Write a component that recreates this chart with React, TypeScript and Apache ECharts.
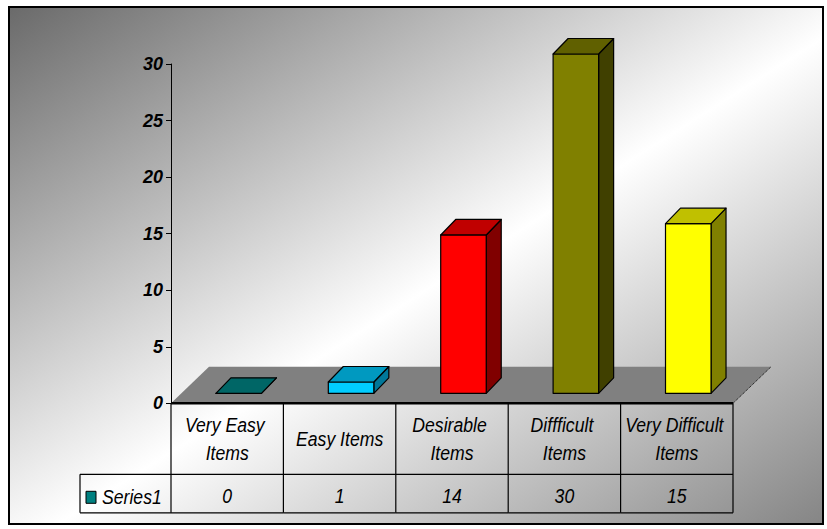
import React, { useEffect, useRef } from "react";
import * as echarts from "echarts";

// ---- data ----
const categories = ["Very Easy Items", "Easy Items", "Desirable Items", "Diffficult Items", "Very Difficult Items"];
const values = [0, 1, 14, 30, 15];
const seriesName = "Series1";
const yMin = 0;
const yMax = 30;
const yInterval = 5;

// ---- styles ----
const frontColors = ["#008080", "#00CCFF", "#FF0000", "#808000", "#FFFF00"];
const topColors = ["#006666", "#0099C0", "#C00000", "#606000", "#C0C000"];
const sideColors = ["#004D4D", "#007799", "#800000", "#404000", "#808000"];
const FONT = "'Liberation Sans', Arial, Helvetica, sans-serif";
const SX = 0.84;

export default function App() {
  const ref = useRef<HTMLDivElement>(null);

  useEffect(() => {
    if (!ref.current) return;
    const chart = echarts.init(ref.current, undefined, { renderer: "svg" });

    const barData = values.map((v, i) => [i, v]);
    const tableData = categories.map((_, i) => [i, 0]);

    const option: any = {
      animation: false,
      backgroundColor: "#ffffff",
      graphic: [
        {
          type: "rect",
          z: -10,
          silent: true,
          shape: { x: 9, y: 7, width: 814, height: 517 },
          style: {
            fill: {
              type: "linear",
              x: 0,
              y: 0,
              x2: 1,
              y2: 1,
              colorStops: [
                { offset: 0, color: "#6a6a6a" },
                { offset: 0.53, color: "#ffffff" },
                { offset: 1, color: "#858585" },
              ],
            },
            stroke: "#000",
            lineWidth: 2,
          },
        },
      ],
      grid: { left: 171, right: 94, top: 64, bottom: 125.7, containLabel: false },
      xAxis: {
        type: "category",
        data: categories,
        boundaryGap: true,
        axisLine: { show: false },
        axisTick: { show: false },
        axisLabel: { show: false },
        splitLine: { show: false },
      },
      yAxis: {
        type: "value",
        min: yMin,
        max: yMax,
        interval: yInterval,
        axisLine: { show: true, lineStyle: { color: "#000", width: 1 } },
        axisTick: { show: true, length: 5, lineStyle: { color: "#000", width: 1 } },
        axisLabel: {
          margin: 8,
          color: "#000",
          fontFamily: FONT,
          fontSize: 18,
          fontWeight: "bold",
          fontStyle: "italic",
        },
        splitLine: { show: false },
      },
      series: [
        {
          type: "custom",
          name: "floor",
          silent: true,
          z: 1,
          data: [[0, 0]],
          encode: { x: 0, y: 1 },
          renderItem: (params: any) => {
            const cs = params.coordSys;
            const fx0 = cs.x;
            const fx1 = cs.x + cs.width;
            const fy = cs.y + cs.height;
            const DX = 38;
            const DY = -36.5;
            return {
              type: "group",
              children: [
                {
                  type: "polygon",
                  shape: { points: [[fx0, fy], [fx1, fy], [fx1 + DX, fy + DY], [fx0 + DX, fy + DY]] },
                  style: { fill: "#808080", stroke: "none" },
                },
                {
                  type: "line",
                  shape: { x1: fx1, y1: fy, x2: fx1 + DX, y2: fy + DY },
                  style: { stroke: "#000", lineWidth: 1, lineDash: [1, 1] },
                },
                {
                  type: "line",
                  shape: { x1: fx0, y1: fy, x2: fx1, y2: fy },
                  style: { stroke: "#000", lineWidth: 2.5 },
                },
              ],
            };
          },
        },
        {
          type: "custom",
          name: seriesName,
          silent: true,
          z: 3,
          data: barData,
          encode: { x: 0, y: 1 },
          renderItem: (params: any, api: any) => {
            const i = api.value(0);
            const v = api.value(1);
            const base = api.coord([i, 0]);
            const top = api.coord([i, v]);
            const band = api.size([1, 0])[0];
            const w = band * 0.405;
            const ox = band * 0.102;
            const oy = -10;
            const dx = 15;
            const dy = -15.5;
            const x1 = base[0] - w / 2 + ox;
            const x2 = x1 + w;
            const yb = base[1] + oy;
            const yt = top[1] + oy;
            const st = { stroke: "#000", lineWidth: 1.2, lineJoin: "round" };
            return {
              type: "group",
              children: [
                {
                  type: "polygon",
                  shape: { points: [[x2, yb], [x2 + dx, yb + dy], [x2 + dx, yt + dy], [x2, yt]] },
                  style: { ...st, fill: sideColors[i] },
                },
                {
                  type: "polygon",
                  shape: { points: [[x1, yb], [x2, yb], [x2, yt], [x1, yt]] },
                  style: { ...st, fill: frontColors[i] },
                },
                {
                  type: "polygon",
                  shape: { points: [[x1, yt], [x2, yt], [x2 + dx, yt + dy], [x1 + dx, yt + dy]] },
                  style: { ...st, fill: topColors[i] },
                },
              ],
            };
          },
        },
        {
          type: "custom",
          name: "table",
          silent: true,
          z: 3,
          data: tableData,
          encode: { x: 0, y: 1 },
          renderItem: (params: any, api: any) => {
            const i = api.value(0);
            const c = api.coord([i, 0]);
            const band = api.size([1, 0])[0];
            const xl = c[0] - band / 2;
            const xr = c[0] + band / 2;
            const y0 = c[1];
            const y1 = y0 + 71;
            const y2 = y0 + 109.5;
            const ls = { stroke: "#000", lineWidth: 1.2 };
            const txt = (x: number, y: number, text: string, align: string, extra: any = {}) => ({
              type: "text",
              x,
              y,
              scaleX: SX,
              style: {
                text,
                fontFamily: FONT,
                fontSize: 21,
                fontStyle: "italic",
                fill: "#000",
                align,
                verticalAlign: "middle",
                ...extra,
              },
            });
            const children: any[] = [
              { type: "line", shape: { x1: xr, y1: y0, x2: xr, y2: y2 }, style: ls },
              { type: "line", shape: { x1: xl, y1: y1, x2: xr, y2: y1 }, style: ls },
              { type: "line", shape: { x1: xl, y1: y2, x2: xr, y2: y2 }, style: ls },
              txt(c[0], y0 + 35.4, categories[i], "center", {
                width: 126,
                overflow: "break",
                lineHeight: 28,
              }),
              txt(c[0], y0 + 92.5, String(values[i]), "center"),
            ];
            if (i === 0) {
              const lx = xl - 91;
              children.push(
                { type: "line", shape: { x1: xl, y1: y0, x2: xl, y2: y2 }, style: ls },
                { type: "line", shape: { x1: lx, y1: y1, x2: xl, y2: y1 }, style: ls },
                { type: "line", shape: { x1: lx, y1: y2, x2: xl, y2: y2 }, style: ls },
                { type: "line", shape: { x1: lx, y1: y1, x2: lx, y2: y2 }, style: ls },
                {
                  type: "rect",
                  shape: { x: xl - 85, y: y0 + 88, width: 10, height: 12 },
                  style: { fill: frontColors[0], stroke: "#000", lineWidth: 1 },
                },
                txt(xl - 69, y0 + 93, seriesName, "left")
              );
            }
            return { type: "group", children };
          },
        },
      ],
    };

    chart.setOption(option);
    return () => chart.dispose();
  }, []);

  return (
    <div
      ref={ref}
      style={{ position: "absolute", left: 0, top: 0, width: 827, height: 529 }}
    />
  );
}
